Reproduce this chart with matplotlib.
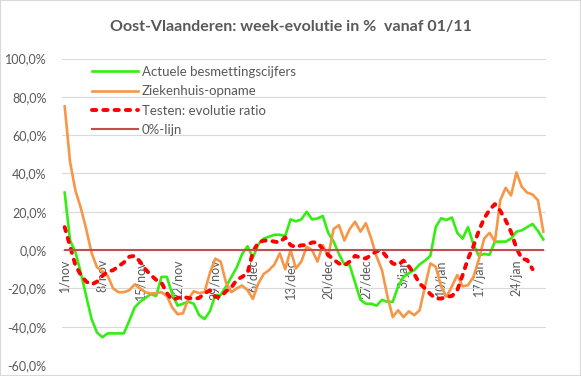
import matplotlib
matplotlib.use('Agg')
import matplotlib.pyplot as plt
import numpy as np
from matplotlib.patches import Rectangle

plt.rcParams['font.family'] = ['Lato', 'DejaVu Sans']

# ---- data (1/nov .. 29/jan, one value per day) ----
days = list(range(90))
tick_days = [0, 7, 14, 21, 28, 35, 42, 49, 56, 63, 70, 77, 84]
tick_labels = ['1/nov', '8/nov', '15/nov', '22/nov', '29/nov', '6/dec', '13/dec',
               '20/dec', '27/dec', '3/jan', '10/jan', '17/jan', '24/jan']
y_ticks = [-60, -40, -20, 0, 20, 40, 60, 80, 100]
y_labels = ['-60,0%', '-40,0%', '-20,0%', '0,0%', '20,0%', '40,0%', '60,0%', '80,0%', '100,0%']

besmetting = [30, 5, -1, -12, -24, -36, -43, -45.5, -43.5, -43.5,
              -43.5, -43.5, -37, -30, -27, -25, -23, -24, -14, -14,
              -23, -29, -28, -27, -28, -34, -36, -32, -23.5, -23.5,
              -19, -14, -9, -2, 2, -4, 3, 6, 7, 8,
              8, 7.3, 16, 15, 16, 20, 16, 16.5, 17.8, 9,
              4.5, -2, -7.5, -8, -17, -26, -28, -28, -29, -26,
              -27, -27, -19, -14, -12, -10.5, -7.5, -5.5, -3, 12,
              16.6, 15.7, 17, 9, 6, 12, 3, -3, -2, -2.5,
              4.4, 4.4, 4.4, 6, 9.6, 10.3, 12, 13.6, 10, 5.5]

ziekenhuis = [75, 46, 31, 22, 11, -1.5, -9, -11, -13.5, -20,
              -22, -22, -21, -18, -20, -22, -22.7, -22.5, -22, -24,
              -30, -33.5, -33, -25.5, -21.5, -22.5, -22, -12, -4.5, -6,
              -17, -22, -20, -18.5, -21, -25.5, -17.5, -12.5, -10.5, -7.5,
              -1.7, -10, 0, -9.6, -6, 1.7, 0, -6, 2.6, -3.5,
              11, 13, 5, 11, 14.8, 9.6, 14, 6, -3.5, -10.5,
              -24, -35, -31.4, -35, -32, -34, -31.4, -19, -7, -8.7,
              -19, -24.4, -19, -13, -19, -18.3, -14, -5, 6, 9,
              4.4, 26, 32.5, 28.5, 40.5, 33, 30, 29, 26, 9.6]

testen = [12, 2, -8, -13, -16.5, -18, -16.5, -13.5, -11.3, -10.5,
          -8.5, -6.5, -3.5, -3, -6, -10, -13, -15.5, -17, -22.5,
          -26, -25, -24.4, -25, -25.5, -25, -22.7, -21, -24.4, -24.5,
          -21.5, -19.5, -15.5, -14, -12, -1, 4, 4.9, 5, 4.4,
          4, 6.6, 2.6, 1.5, 2.5, 2.6, 4, 4, 0.5, -2.5,
          -5, -7, -8, -6, -3, -4, -4.4, -2.6, -0.5, -0.5,
          -4, -7, -7.8, -5.5, -8.5, -12.5, -17.5, -20, -23, -25.3,
          -25.3, -24.4, -24, -21, -13, -4.5, 2, 10, 16.5, 21,
          24, 20.5, 15.5, 9.5, 1, -4.5, -5.2, -10, np.nan, np.nan]

nul_lijn = [0] * 90

# ---- figure ----
W, H = 581, 376
fig = plt.figure(figsize=(W / 100, H / 100), dpi=100)
left, right, top, bottom = 62, 546, 58.5, 365
ax = fig.add_axes([left / W, 1 - bottom / H, (right - left) / W, (bottom - top) / H])

for s in ax.spines.values():
    s.set_visible(False)
ax.spines['bottom'].set_position(('data', 0))

ax.plot(days, besmetting, color='#33EE11', lw=1.9, label='Actuele besmettingscijfers', zorder=3)
ax.plot(days, ziekenhuis, color='#F79646', lw=1.9, label='Ziekenhuis-opname', zorder=4)
ax.plot(days, testen, color='#FF0000', lw=2.8, ls=(0, (1.1, 1.8)), dash_capstyle='round',
        label='Testen: evolutie ratio', zorder=5)
ax.plot(days, nul_lijn, color='#C0504D', lw=1.5, label='0%-lijn', zorder=6)

ax.set_xlim(-0.5, 89.5)
ax.set_ylim(-60, 100)
ax.set_yticks(y_ticks)
ax.set_yticklabels(y_labels)
ax.set_xticks(tick_days)
ax.set_xticklabels(tick_labels)
ax.yaxis.grid(True, color='#D9D9D9', lw=0.8)
ax.set_axisbelow(True)
ax.tick_params(axis='x', length=0, pad=6.5, labelsize=9, labelcolor='#595959', labelrotation=90)
ax.tick_params(axis='y', length=0, pad=11, labelsize=9, labelcolor='#595959')
for lbl in ax.get_xticklabels():
    lbl.set_ha('center')
    lbl.set_va('top')

leg = ax.legend(loc='upper left', bbox_to_anchor=(92 / W, 1 - 66 / H), bbox_transform=fig.transFigure,
                frameon=False, fontsize=9.5, borderpad=0, borderaxespad=0,
                handlelength=3.45, handletextpad=0.32, labelspacing=0.55)
for t in leg.get_texts():
    t.set_color('#595959')

fig.text(0.5, 1 - 27 / H, 'Oost-Vlaanderen: week-evolutie in %  vanaf 01/11', ha='center', va='center',
         fontsize=11.5, fontweight='bold', color='#595959')

fig.patches.append(Rectangle((0, 0), 1, 1, transform=fig.transFigure, fill=False,
                             edgecolor='#D9D9D9', lw=1.5))

fig.savefig('out.png', dpi=100)
